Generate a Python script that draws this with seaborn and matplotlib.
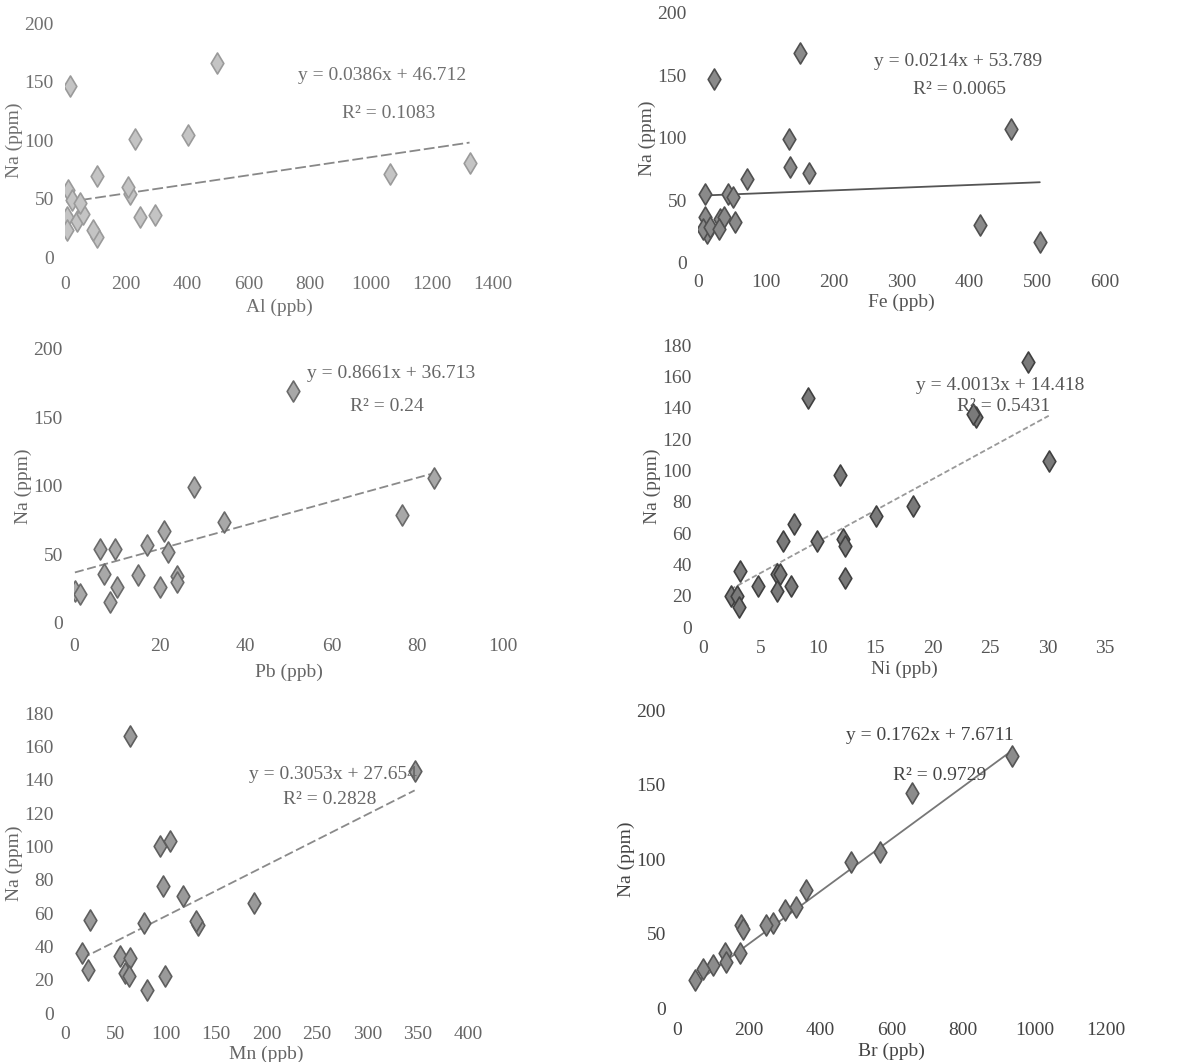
import numpy as np
import pandas as pd
import matplotlib
matplotlib.use("Agg")
import matplotlib.pyplot as plt
import seaborn as sns

# Na (ppm) against each element (ppb)
al_x = [16, 497, 229, 404, 1064, 1324, 11, 22, 5, 38, 60, 104, 104, 93, 213, 207, 245, 295, 5, 49]
al_y = [146, 166, 101, 104, 71, 80, 57, 49, 34, 31, 37, 69, 17, 23, 54, 60, 34, 36, 23, 46]

fe_x = [23, 151, 134, 136, 163, 72, 461, 416, 504, 11, 45, 52, 11, 13, 8, 18, 33, 38, 31, 55]
fe_y = [147, 168, 99, 77, 72, 67, 107, 30, 17, 55, 55, 53, 37, 24, 27, 29, 35, 37, 27, 33]

pb_x = [51, 28, 35, 84, 76.5, 21, 22, 17, 6, 9.5, 7, 15, 10, 8.4, 0.2, 1.4, 20, 24, 24]
pb_y = [169, 99, 74, 106, 79, 67, 52, 57, 54, 54, 36, 35, 26, 15, 23, 21, 26, 34, 30]

ni_x = [28.3, 9.1, 23.8, 23.5, 30.1, 11.9, 18.3, 15.1, 7.9, 7.0, 9.9, 12.2, 12.4, 12.4,
        3.2, 4.8, 6.4, 6.7, 6.4, 7.7, 2.4, 3.0, 3.1]
ni_y = [169, 146, 134, 136, 106, 97, 77, 71, 66, 55, 55, 56, 52, 31,
        36, 26, 34, 34, 23, 26, 20, 20, 13]

mn_x = [347, 64, 94, 104, 97.5, 117, 188, 132, 130, 78, 25, 16.5, 23, 55, 64, 59.5, 63, 99, 81]
mn_y = [145, 166, 100, 103, 76, 70, 66, 53, 55, 54, 56, 36, 26, 34, 33, 24, 22, 22, 14]

br_x = [936, 656, 569, 488, 362, 334, 301, 269, 250, 180, 185, 175, 133, 138, 101, 73, 49]
br_y = [169, 144, 105, 98, 79, 68, 66, 57, 56, 56, 53, 37, 37, 31, 29, 26, 19]

elements = ["Al", "Fe", "Pb", "Ni", "Mn", "Br"]
slopes = [0.0386, 0.0214, 0.8661, 4.0013, 0.3053, 0.1762]
intercepts = [46.712, 53.789, 36.713, 14.418, 27.654, 7.6711]
eq_text = ["y = 0.0386x + 46.712", "y = 0.0214x + 53.789", "y = 0.8661x + 36.713",
           "y = 4.0013x + 14.418", "y = 0.3053x + 27.654", "y = 0.1762x + 7.6711"]
r2_text = ["R² = 0.1083", "R² = 0.0065", "R² = 0.24",
           "R² = 0.5431", "R² = 0.2828", "R² = 0.9729"]

xs = [al_x, fe_x, pb_x, ni_x, mn_x, br_x]
ys = [al_y, fe_y, pb_y, ni_y, mn_y, br_y]

# layout / style per panel
rects = [
    [0.0543, 0.758, 0.357, 0.2203],
    [0.5826, 0.7524, 0.3397, 0.2354],
    [0.0618, 0.4134, 0.3581, 0.258],
    [0.5868, 0.4096, 0.3356, 0.2655],
    [0.0543, 0.0461, 0.3364, 0.2825],
    [0.5651, 0.0508, 0.3581, 0.2806],
]
xlims = [(0, 1400), (0, 600), (0, 100), (0, 35), (0, 400), (0, 1200)]
xsteps = [200, 100, 20, 5, 50, 200]
ylims = [(0, 200), (0, 200), (0, 200), (0, 180), (0, 180), (0, 200)]
ysteps = [50, 50, 50, 20, 20, 50]
xpads = [14, 8, 11, 9, 9, 10]
xlabpads = [4, 2, 6, 3, 2, 3]
eq_pos = [(1037, 155), (384, 161), (74, 182), (25.9, 154), (266, 143), (707, 183)]
r2_pos = [(1058, 123), (386, 139), (73, 158), (26.2, 141), (263, 128), (735, 156)]
face = ["#c4c4c4", "#8a8a8a", "#a8a8a8", "#7a7a7a", "#9a9a9a", "#8c8c8c"]
edge = ["#9a9a9a", "#505050", "#6a6a6a", "#404040", "#5e5e5e", "#555555"]
txt = ["#707070", "#555555", "#666666", "#555555", "#666666", "#444444"]
line_col = ["#888888", "#555555", "#8a8a8a", "#999999", "#8a8a8a", "#777777"]
line_ls = [(0, (6, 2)), "-", (0, (5, 2)), (0, (3, 1.5)), (0, (5, 2)), "-"]

sns.set_theme(style="white")
plt.rcParams["font.family"] = ["Liberation Serif", "DejaVu Serif"]

fig = plt.figure(figsize=(11.98, 10.62), dpi=100)

for i, el in enumerate(elements):
    ax = fig.add_axes(rects[i])
    df = pd.DataFrame({"x": xs[i], "y": ys[i]})
    sns.scatterplot(data=df, x="x", y="y", ax=ax, marker="d", s=115,
                    color=face[i], edgecolor=edge[i], linewidth=1.2, zorder=3)

    # fitted trend line from the stated equation, across the data range
    x0, x1 = min(xs[i]), max(xs[i])
    fit = pd.DataFrame({"x": [x0, x1],
                        "y": [slopes[i] * x0 + intercepts[i], slopes[i] * x1 + intercepts[i]]})
    sns.lineplot(data=fit, x="x", y="y", ax=ax, color=line_col[i], lw=1.3,
                 linestyle=line_ls[i], zorder=2)

    ax.text(*eq_pos[i], eq_text[i], ha="center", va="center", fontsize=14, color=txt[i])
    ax.text(*r2_pos[i], r2_text[i], ha="center", va="center", fontsize=14, color=txt[i])

    ax.set_xlim(xlims[i][0], xlims[i][1])
    ax.set_ylim(ylims[i][0], ylims[i][1])
    ax.set_xticks(np.arange(xlims[i][0], xlims[i][1] + 1e-9, xsteps[i]))
    ax.set_yticks(np.arange(ylims[i][0], ylims[i][1] + 1e-9, ysteps[i]))
    ax.tick_params(axis="x", length=0, pad=xpads[i], labelsize=14, labelcolor=txt[i])
    ax.tick_params(axis="y", length=0, pad=8, labelsize=14, labelcolor=txt[i])
    ax.set_xlabel(f"{el} (ppb)", fontsize=14, color=txt[i], labelpad=xlabpads[i])
    ax.set_ylabel("Na (ppm)", fontsize=14, color=txt[i], labelpad=1)
    for sp in ax.spines.values():
        sp.set_visible(False)
    ax.set_facecolor("none")
    ax.grid(False)

fig.savefig("out.png", dpi=100, facecolor="white")
